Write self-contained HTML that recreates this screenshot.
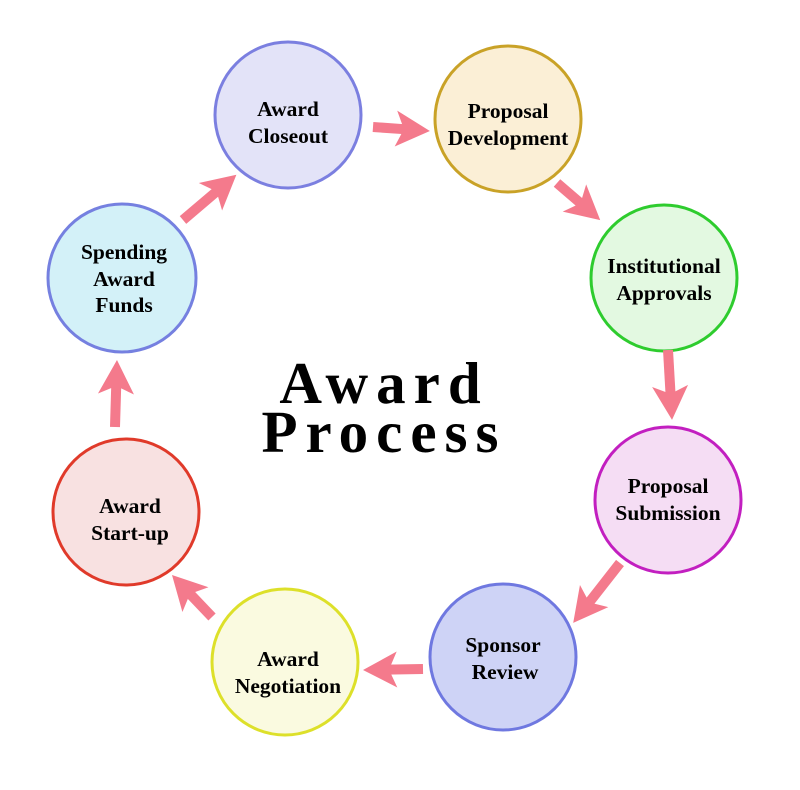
<!DOCTYPE html>
<html><head><meta charset="utf-8"><style>
html,body{margin:0;padding:0;background:#fff;}
svg{display:block;}
text{font-family:"Liberation Serif",serif;font-weight:bold;fill:#000;}
.n{font-size:21.5px;text-anchor:middle;}
.t{font-size:59px;letter-spacing:8px;text-anchor:middle;}
</style></head><body>
<svg width="800" height="790" viewBox="0 0 800 790" xmlns="http://www.w3.org/2000/svg">
<g stroke-width="3">
<circle cx="288" cy="115" r="73" fill="#e3e3f8" stroke="#7b7fe0"/>
<circle cx="508" cy="119" r="73" fill="#fbefd6" stroke="#c9a227"/>
<circle cx="664" cy="278" r="73" fill="#e3f9e1" stroke="#2ecc2e"/>
<circle cx="668" cy="500" r="73" fill="#f5ddf4" stroke="#c21fc0"/>
<circle cx="503" cy="657" r="73" fill="#ced3f6" stroke="#6f78e0"/>
<circle cx="285" cy="662" r="73" fill="#fafae0" stroke="#dde02a"/>
<circle cx="126" cy="512" r="73" fill="#f8e1e1" stroke="#e03a2a"/>
<circle cx="122" cy="278" r="74" fill="#d3f1f8" stroke="#7580e0"/>
</g>
<g fill="#f47a8c">
<g transform="translate(373,127) rotate(4)"><rect x="0" y="-5" width="33" height="10"/><polygon points="57,0 23,-18 31,0 23,18"/></g>
<g transform="translate(557,183) rotate(40.7)"><rect x="0" y="-5" width="33" height="10"/><polygon points="57,0 23,-18 31,0 23,18"/></g>
<g transform="translate(668,350) rotate(86.7)"><rect x="0" y="-5" width="46" height="10"/><polygon points="70,0 36,-18 44,0 36,18"/></g>
<g transform="translate(620,563) rotate(128)"><rect x="0" y="-5" width="52" height="10"/><polygon points="76,0 42,-18 50,0 42,18"/></g>
<g transform="translate(423,669) rotate(179)"><rect x="0" y="-5" width="36" height="10"/><polygon points="60,0 26,-18 34,0 26,18"/></g>
<g transform="translate(212,617) rotate(226.4)"><rect x="0" y="-5" width="34" height="10"/><polygon points="58,0 24,-18 32,0 24,18"/></g>
<g transform="translate(115,427) rotate(-88.3)"><rect x="0" y="-5" width="43" height="10"/><polygon points="67,0 33,-18 41,0 33,18"/></g>
<g transform="translate(183,220) rotate(-40.3)"><rect x="0" y="-5" width="46" height="10"/><polygon points="70,0 36,-18 44,0 36,18"/></g>
</g>
<text class="n" x="288" y="116">Award</text>
<text class="n" x="288" y="143">Closeout</text>
<text class="n" x="508" y="118">Proposal</text>
<text class="n" x="508" y="145">Development</text>
<text class="n" x="664" y="273">Institutional</text>
<text class="n" x="664" y="300">Approvals</text>
<text class="n" x="668" y="493">Proposal</text>
<text class="n" x="668" y="520">Submission</text>
<text class="n" x="503" y="652">Sponsor</text>
<text class="n" x="505" y="679">Review</text>
<text class="n" x="288" y="666">Award</text>
<text class="n" x="288" y="693">Negotiation</text>
<text class="n" x="130" y="513">Award</text>
<text class="n" x="130" y="540">Start-up</text>
<text class="n" x="124" y="259">Spending</text>
<text class="n" x="124" y="286">Award</text>
<text class="n" x="124" y="312">Funds</text>
<text class="t" x="384" y="403">Award</text>
<text class="t" x="384" y="452">Process</text>
</svg>
</body></html>
